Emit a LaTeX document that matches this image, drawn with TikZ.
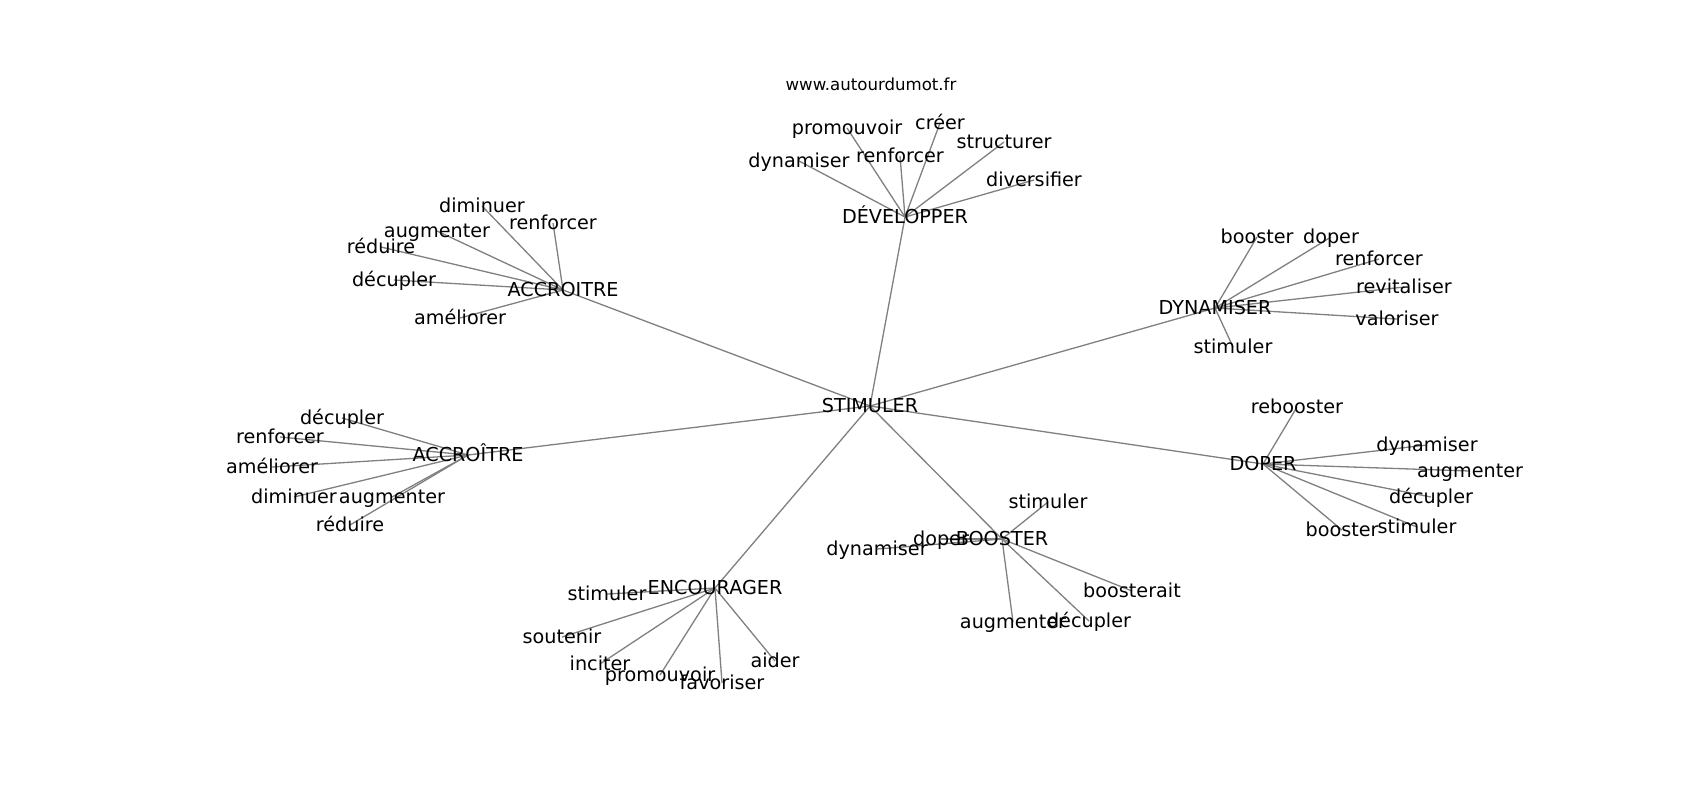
\documentclass[tikz,border=0pt]{standalone}
\usepackage{fontspec}
\setmainfont{DejaVu Sans}
\begin{document}
\begin{tikzpicture}[x=0.5pt,y=-0.5pt,
  lbl/.style={inner sep=0pt,yshift=-0.8pt,text height=0.76em,text depth=0.24em,font=\fontsize{9.6}{11}\selectfont,text=black},
  ttl/.style={inner sep=0pt,yshift=-0.5pt,font=\fontsize{8.3}{10}\selectfont,text=black},
  edge/.style={draw=gray,line width=0.65pt}]
\useasboundingbox (0,0) rectangle (1700,800);
\fill[white] (0,0) rectangle (1700,800);
% title
\node[ttl] (title) at (871,83) {www.autourdumot.fr};
% hubs
\coordinate (S) at (870,406);
\coordinate (A) at (563,290);
\coordinate (Dv) at (905,217);
\coordinate (Dy) at (1215,308);
\coordinate (Ac) at (468,455);
\coordinate (Dp) at (1263,464);
\coordinate (B) at (1002,539);
\coordinate (E) at (715,588);
% leaves
\coordinate (a1) at (482,206); \coordinate (a2) at (553,223); \coordinate (a3) at (437,231);
\coordinate (a4) at (381,247); \coordinate (a5) at (394,280); \coordinate (a6) at (460,318);
\coordinate (v1) at (847,128); \coordinate (v2) at (940,123); \coordinate (v3) at (1004,142);
\coordinate (v4) at (900,156); \coordinate (v5) at (799,161); \coordinate (v6) at (1034,180);
\coordinate (y1) at (1257,237); \coordinate (y2) at (1331,237); \coordinate (y3) at (1379,259);
\coordinate (y4) at (1404,287); \coordinate (y5) at (1397,319); \coordinate (y6) at (1233,347);
\coordinate (c1) at (342,418); \coordinate (c2) at (280,437); \coordinate (c3) at (272,467);
\coordinate (c4) at (294,497); \coordinate (c5) at (392,497); \coordinate (c6) at (350,525);
\coordinate (p1) at (1297,407); \coordinate (p2) at (1427,445); \coordinate (p3) at (1470,471);
\coordinate (p4) at (1431,497); \coordinate (p5) at (1342,530); \coordinate (p6) at (1417,527);
\coordinate (b1) at (1048,502); \coordinate (b2) at (941,539); \coordinate (b3) at (877,549);
\coordinate (b4) at (1132,591); \coordinate (b5) at (1089,621); \coordinate (b6) at (1013,622);
\coordinate (e1) at (607,594); \coordinate (e2) at (562,637); \coordinate (e3) at (600,664);
\coordinate (e4) at (660,675); \coordinate (e5) at (722,683); \coordinate (e6) at (775,661);
% edges
\foreach \h in {A,Dv,Dy,Ac,Dp,B,E} \draw[edge] (S) -- (\h);
\foreach \l in {a1,a2,a3,a4,a5,a6} \draw[edge] (A) -- (\l);
\foreach \l in {v1,v2,v3,v4,v5,v6} \draw[edge] (Dv) -- (\l);
\foreach \l in {y1,y2,y3,y4,y5,y6} \draw[edge] (Dy) -- (\l);
\foreach \l in {c1,c2,c3,c4,c5,c6} \draw[edge] (Ac) -- (\l);
\foreach \l in {p1,p2,p3,p4,p5,p6} \draw[edge] (Dp) -- (\l);
\foreach \l in {b1,b2,b3,b4,b5,b6} \draw[edge] (B) -- (\l);
\foreach \l in {e1,e2,e3,e4,e5,e6} \draw[edge] (E) -- (\l);
% labels
\node[lbl] (nS) at (S) {STIMULER};
\node[lbl] (nA) at (A) {ACCROITRE};
\node[lbl] (nDv) at (Dv) {DÉVELOPPER};
\node[lbl] (nDy) at (Dy) {DYNAMISER};
\node[lbl] (nAc) at (Ac) {ACCROÎTRE};
\node[lbl] (nDp) at (Dp) {DOPER};
\node[lbl] (nB) at (B) {BOOSTER};
\node[lbl] (nE) at (E) {ENCOURAGER};
\node[lbl] (na1) at (a1) {diminuer};
\node[lbl] (na2) at (a2) {renforcer};
\node[lbl] (na3) at (a3) {augmenter};
\node[lbl] (na4) at (a4) {réduire};
\node[lbl] (na5) at (a5) {décupler};
\node[lbl] (na6) at (a6) {améliorer};
\node[lbl] (nv1) at (v1) {promouvoir};
\node[lbl] (nv2) at (v2) {créer};
\node[lbl] (nv3) at (v3) {structurer};
\node[lbl] (nv4) at (v4) {renforcer};
\node[lbl] (nv5) at (v5) {dynamiser};
\node[lbl] (nv6) at (v6) {diversifier};
\node[lbl] (ny1) at (y1) {booster};
\node[lbl] (ny2) at (y2) {doper};
\node[lbl] (ny3) at (y3) {renforcer};
\node[lbl] (ny4) at (y4) {revitaliser};
\node[lbl] (ny5) at (y5) {valoriser};
\node[lbl] (ny6) at (y6) {stimuler};
\node[lbl] (nc1) at (c1) {décupler};
\node[lbl] (nc2) at (c2) {renforcer};
\node[lbl] (nc3) at (c3) {améliorer};
\node[lbl] (nc4) at (c4) {diminuer};
\node[lbl] (nc5) at (c5) {augmenter};
\node[lbl] (nc6) at (c6) {réduire};
\node[lbl] (np1) at (p1) {rebooster};
\node[lbl] (np2) at (p2) {dynamiser};
\node[lbl] (np3) at (p3) {augmenter};
\node[lbl] (np4) at (p4) {décupler};
\node[lbl] (np5) at (p5) {booster};
\node[lbl] (np6) at (p6) {stimuler};
\node[lbl] (nb1) at (b1) {stimuler};
\node[lbl] (nb2) at (b2) {doper};
\node[lbl] (nb3) at (b3) {dynamiser};
\node[lbl] (nb4) at (b4) {boosterait};
\node[lbl] (nb5) at (b5) {décupler};
\node[lbl] (nb6) at (b6) {augmenter};
\node[lbl] (ne1) at (e1) {stimuler};
\node[lbl] (ne2) at (e2) {soutenir};
\node[lbl] (ne3) at (e3) {inciter};
\node[lbl] (ne4) at (e4) {promouvoir};
\node[lbl] (ne5) at (e5) {favoriser};
\node[lbl] (ne6) at (e6) {aider};
\end{tikzpicture}
\end{document}
